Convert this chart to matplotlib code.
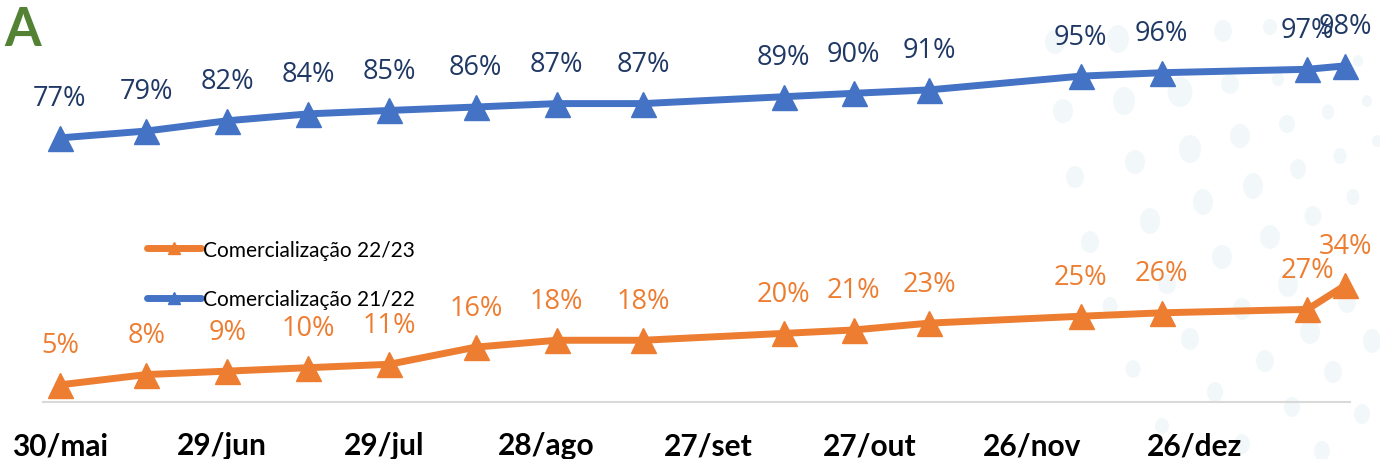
import matplotlib
matplotlib.use("Agg")
import matplotlib.pyplot as plt
import matplotlib.dates as mdates
import pandas as pd
from matplotlib.patches import Ellipse

# ---- data ----
dates = pd.to_datetime([
    "2022-05-30", "2022-06-15", "2022-06-30", "2022-07-15", "2022-07-30",
    "2022-08-15", "2022-08-30", "2022-09-15", "2022-10-11", "2022-10-24",
    "2022-11-07", "2022-12-05", "2022-12-20", "2023-01-16", "2023-01-23",
])
com_21_22 = [77, 79, 82, 84, 85, 86, 87, 87, 89, 90, 91, 95, 96, 97, 98]
com_22_23 = [5, 8, 9, 10, 11, 16, 18, 18, 20, 21, 23, 25, 26, 27, 34]
tick_dates = pd.to_datetime([
    "2022-05-30", "2022-06-29", "2022-07-29", "2022-08-28",
    "2022-09-27", "2022-10-27", "2022-11-26", "2022-12-26",
])
tick_labels = ["30/mai", "29/jun", "29/jul", "28/ago", "27/set", "27/out", "26/nov", "26/dez"]
series_names = ["Comercialização 22/23", "Comercialização 21/22"]

# decorative background dots (figure pixels: x, y, w, h)
dots = [
    (1055, 43, 20, 24), (1118, 40, 22, 28), (1223, 32, 18, 22), (1270, 28, 14, 16),
    (1063, 112, 20, 24), (1124, 102, 22, 28), (1180, 93, 25, 30), (1230, 85, 18, 20),
    (1278, 80, 12, 14), (1358, 62, 10, 12), (1328, 113, 12, 15), (1367, 102, 10, 12),
    (1287, 125, 16, 18), (1240, 137, 20, 24), (1190, 150, 22, 28), (1135, 163, 20, 24),
    (1075, 178, 18, 22), (1377, 142, 10, 12), (1340, 157, 13, 16), (1298, 170, 16, 20),
    (1253, 187, 20, 26), (1203, 203, 20, 26), (1150, 222, 20, 26), (1353, 198, 13, 16),
    (1313, 217, 17, 20), (1270, 238, 20, 24), (1090, 243, 18, 22), (1222, 258, 20, 24),
    (1167, 285, 18, 20), (1288, 285, 20, 26), (1110, 307, 15, 18), (1242, 310, 18, 22),
    (1347, 303, 18, 22), (1190, 340, 18, 22), (1310, 333, 20, 24), (1372, 342, 18, 24),
    (1133, 370, 15, 18), (1265, 362, 18, 22), (1333, 373, 18, 22), (1215, 393, 16, 20),
    (1292, 408, 16, 20), (1362, 415, 16, 20), (1162, 427, 14, 16), (1242, 445, 16, 20),
    (1322, 452, 16, 20),
]

BLUE = "#4472C4"
ORANGE = "#ED7D31"
NAVY = "#1F3864"
DOT = "#f2f8f9"

fig = plt.figure(figsize=(13.8, 4.6), dpi=100)

bg = fig.add_axes([0, 0, 1, 1], zorder=0)
bg.set_xlim(0, 1380)
bg.set_ylim(460, 0)
bg.axis("off")
for x, y, w, h in dots:
    bg.add_patch(Ellipse((x, y), w, h, facecolor=DOT, edgecolor="none"))

ax = fig.add_axes([0, 0, 1, 1], zorder=1)
ax.patch.set_alpha(0)

base = mdates.date2num(pd.Timestamp("2022-05-30"))
px_per_day = 5.40
ax.set_xlim(base - 60 / px_per_day, base + (1380 - 60) / px_per_day)
ax.set_ylim((403 - 460) / 3.43, 403 / 3.43)

l2, = ax.plot(dates, com_22_23, color=ORANGE, lw=5, marker="^", ms=18,
              solid_capstyle="round", label=series_names[0], zorder=3)
l1, = ax.plot(dates, com_21_22, color=BLUE, lw=5, marker="^", ms=18,
              solid_capstyle="round", label=series_names[1], zorder=3)

for d, v in zip(dates, com_21_22):
    ax.annotate(f"{v}%", (d, v), xytext=(0, 28.5), textcoords="offset points",
                ha="center", va="center", color=NAVY, fontsize=19.5,
                family="Open Sans", zorder=4)
for d, v in zip(dates, com_22_23):
    ax.annotate(f"{v}%", (d, v), xytext=(0, 28.5), textcoords="offset points",
                ha="center", va="center", color=ORANGE, fontsize=19.5,
                family="Open Sans", zorder=4)

for s in ["top", "right", "left"]:
    ax.spines[s].set_visible(False)
ax.spines["bottom"].set_position(("data", 0))
ax.spines["bottom"].set_color("#d9d9d9")
ax.spines["bottom"].set_linewidth(1.5)
ax.spines["bottom"].set_bounds(base - 17 / px_per_day, base + (1350 - 60) / px_per_day)
ax.set_yticks([])
ax.set_xticks(mdates.date2num(tick_dates))
ax.set_xticklabels(tick_labels, fontsize=21.5, fontweight="bold", family="Lato")
ax.tick_params(axis="x", length=0, pad=21)

leg = ax.legend(handles=[l2, l1], loc="upper left", bbox_to_anchor=(128 / 1380, 1 - 222 / 460),
                frameon=False, prop={"family": "Lato", "size": 15},
                handlelength=2.6, handletextpad=0.1, labelspacing=1.4, markerscale=0.5)
for h in leg.legend_handles:
    h.set_linewidth(5)

fig.text(4 / 1380, 1 - 46 / 460, "A", color="#548235", fontsize=38,
         fontweight="bold", family="Lato", ha="left", va="baseline")

fig.savefig("out.png", dpi=100)
